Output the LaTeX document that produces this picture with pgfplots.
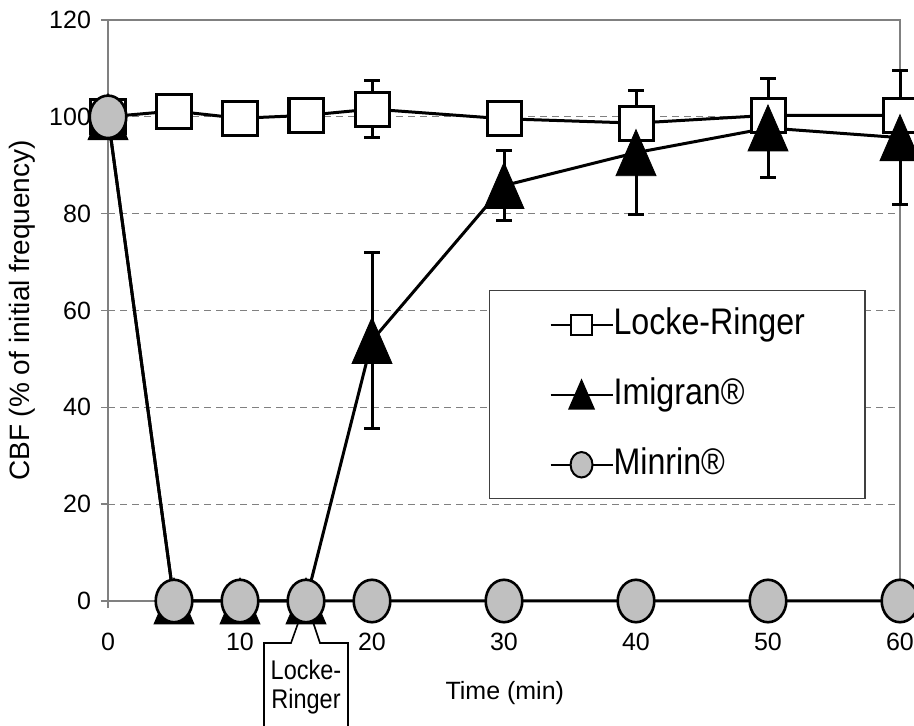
\documentclass[border=0pt]{standalone}
\usepackage{fontspec}
\setmainfont{Liberation Sans}
\newfontfamily\narrowfont{Liberation Sans}[FakeStretch=0.87]
\usepackage{pgfplots}
\pgfplotsset{compat=1.18}
\usepackage{pgfplotstable}
\definecolor{silver}{RGB}{192,192,192}

\pgfdeclareplotmark{etri}{%
  \pgfpathmoveto{\pgfqpoint{0pt}{1.15\pgfplotmarksize}}%
  \pgfpathlineto{\pgfqpoint{\pgfplotmarksize}{-1.15\pgfplotmarksize}}%
  \pgfpathlineto{\pgfqpoint{-\pgfplotmarksize}{-1.15\pgfplotmarksize}}%
  \pgfpathclose
  \pgfusepathqfillstroke}
\pgfdeclareplotmark{ell}{%
  \pgfpathellipse{\pgfpointorigin}{\pgfqpoint{\pgfplotmarksize}{0pt}}{\pgfqpoint{0pt}{1.16\pgfplotmarksize}}%
  \pgfusepathqfillstroke}

\pgfplotstableread{
t v e
0 100 0
5 101.2 0
10 99.7 0
15 100.3 0
20 101.6 5.9
30 99.6 0
40 98.7 0
50 100.3 0
60 100.3 0
}\lr
\pgfplotstableread{
t v
0 100
5 0
10 0
15 0
20 53.8
30 85.8
40 92.6
50 97.7
60 95.7
}\imi
\pgfplotstableread{
t v e
20 53.8 18.1
30 85.8 7.3
40 92.6 12.8
50 97.7 10.3
60 95.7 13.8
}\imierr
\pgfplotstableread{
t v
0 100
5 0
10 0
15 0
20 0
30 0
40 0
50 0
60 0
}\minr

\begin{document}
\begin{tikzpicture}
\useasboundingbox (0,0) rectangle (457pt,363pt);
\begin{axis}[
  at={(54pt,62.5pt)}, anchor=south west,
  scale only axis, width=396pt, height=290.5pt,
  xmin=0, xmax=60, ymin=0, ymax=120,
  xtick={0,10,...,60}, ytick={0,20,...,120},
  clip=false,
  axis line style={draw=gray, line width=0.9pt},
  tick style={draw=gray, line width=0.8pt},
  tick align=outside, tick pos=left,
  major tick length=3.5pt,
  ymajorgrids,
  grid style={draw=gray, dash pattern=on 3.5pt off 2.5pt, line width=0.6pt},
  tick label style={font=\fontsize{12.5}{14}\selectfont},
  /pgf/number format/assume math mode=true,
  xticklabel style={yshift=-9pt},
  yticklabel style={xshift=-1.5pt},
  xlabel={Time (min)},
  ylabel={CBF (\% of initial frequency)},
  every axis x label/.style={at={(axis description cs:0.501,-0.158)}, anchor=center, font=\fontsize{12.5}{14}\selectfont},
  every axis y label/.style={at={(axis description cs:-0.1086,0.5)}, rotate=90, anchor=center, font=\fontsize{14}{16}\selectfont},
  legend cell align=left,
  legend image code/.code={\draw[mark repeat=2,mark phase=2,#1,line width=1pt,/tikz/every mark/.append style={scale=0.6,line width=1pt}] plot coordinates {(0pt,0pt) (15.5pt,0pt) (31pt,0pt)};},
  legend style={at={(rel axis cs:0.481,0.535)}, anchor=north west,
    draw=black!75, line width=0.6pt, fill=white,
    inner xsep=30pt, inner ysep=8.25pt, row sep=17.5pt,
    nodes={inner sep=0pt, text height=13.5pt, text depth=4pt, font=\narrowfont\fontsize{18.5}{20}\selectfont},
    /tikz/every even column/.append style={column sep=5pt}},
]
% Imigran error bars (behind everything)
\addplot[only marks, mark=none, forget plot,
  error bars/.cd, y dir=both, y explicit,
  error bar style={line width=1.5pt, black},
  error mark options={rotate=90, mark size=3.9pt, line width=1.5pt, black}]
  table[x=t, y=v, y error=e]{\imierr};
% Locke-Ringer
\addplot[black, line width=1.5pt, mark=square*, mark size=8.5pt,
  mark options={fill=white, draw=black, line width=1.5pt},
  error bars/.cd, y dir=both, y explicit,
  error bar style={line width=1.5pt, black},
  error mark options={rotate=90, mark size=3.9pt, line width=1.5pt, black}]
  table[x=t, y=v, y error=e]{\lr};
\addlegendentry{Locke-Ringer}
% Imigran
\addplot[black, line width=1.5pt, mark=etri, mark size=10pt,
  mark options={fill=black, draw=black, line width=0.4pt}]
  table[x=t, y=v]{\imi};
\addlegendentry{Imigran®}
% callout fill
\fill[white] (axis cs:15,0) -- ++(-7.5pt,-21pt) -- ++(-13.5pt,0pt) -- ++(0pt,-50pt) -- ++(42pt,0pt) -- ++(0pt,50pt) -- ++(-14pt,0pt) -- cycle;
% Minrin
\addplot[black, line width=1.5pt, mark=ell, mark size=9.15pt,
  mark options={fill=silver, draw=black, line width=1.3pt}]
  table[x=t, y=v]{\minr};
\addlegendentry{Minrin®}
% callout outline and text
\draw[black, line width=0.8pt] (axis cs:15,0) -- ++(-7.5pt,-21pt) -- ++(-13.5pt,0pt) -- ++(0pt,-50pt) -- ++(42pt,0pt) -- ++(0pt,50pt) -- ++(-14pt,0pt) -- cycle;
\path (axis cs:15,0) ++(0pt,-34.5pt) node[font=\narrowfont\fontsize{13.5}{15}\selectfont] {Locke-};
\path (axis cs:15,0) ++(0pt,-50.5pt) node[font=\narrowfont\fontsize{13.5}{15}\selectfont] {Ringer};
\end{axis}
\end{tikzpicture}
\end{document}
